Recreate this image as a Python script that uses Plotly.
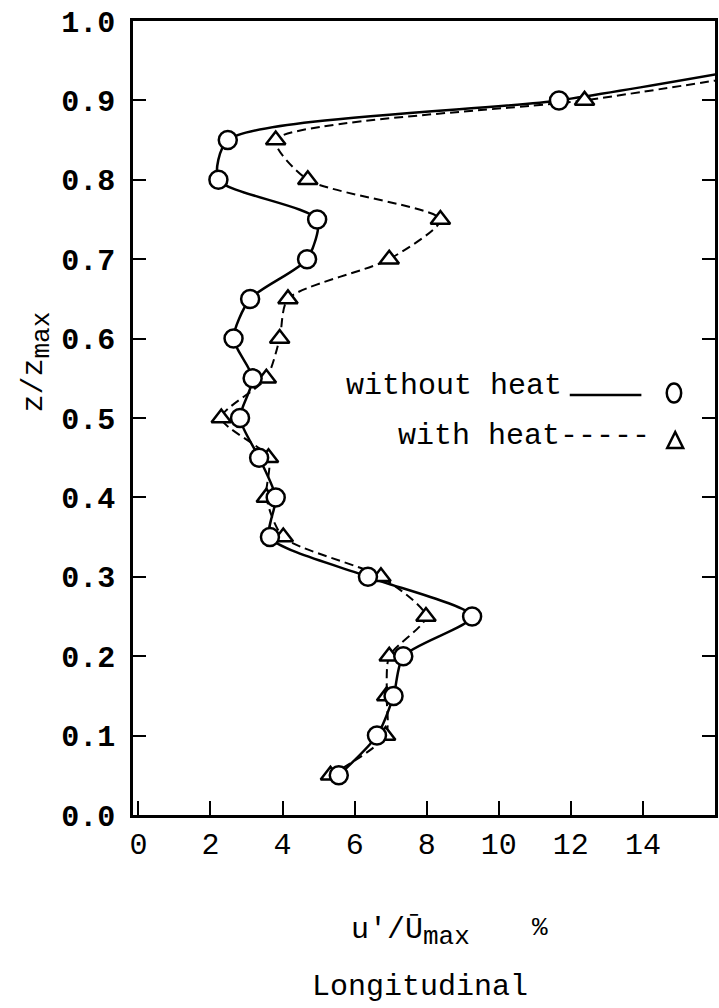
import plotly.graph_objects as go

# ---- data ----
z_levels = [0.05, 0.10, 0.15, 0.20, 0.25, 0.30, 0.35, 0.40, 0.45,
            0.50, 0.55, 0.60, 0.65, 0.70, 0.75, 0.80, 0.85, 0.90]
u_without_heat = [5.56, 6.62, 7.08, 7.35, 9.26, 6.37, 3.65, 3.81, 3.35,
                  2.82, 3.17, 2.64, 3.10, 4.68, 4.96, 2.22, 2.48, 11.67]
u_with_heat = [5.33, 6.86, 6.89, 6.96, 7.98, 6.73, 4.02, 3.55, 3.61,
               2.30, 3.55, 3.92, 4.15, 6.96, 8.38, 4.70, 3.81, 12.38]
# curves continue beyond the right frame
tail_u = [16.3]
tail_z_without = [0.935]
tail_z_with = [0.927]

x_ticks = [0, 2, 4, 6, 8, 10, 12, 14]
y_ticks = [0.0, 0.1, 0.2, 0.3, 0.4, 0.5, 0.6, 0.7, 0.8, 0.9, 1.0]

FONT = "Liberation Mono"
W, H = 719, 1008
ML, MR, MT, MB = 133, 1, 21, 193
PW, PH = W - ML - MR, H - MT - MB


def px2paper_x(px):
    return (px - ML) / PW


def px2paper_y(py):
    return (H - MB - py) / PH


fig = go.Figure()

# lines
fig.add_trace(go.Scatter(
    x=u_with_heat + tail_u, y=z_levels + tail_z_with, mode="lines",
    line=dict(color="black", width=2, dash="9px,5px", shape="spline", smoothing=0.7),
    showlegend=False, hoverinfo="skip"))
fig.add_trace(go.Scatter(
    x=u_without_heat + tail_u, y=z_levels + tail_z_without, mode="lines",
    line=dict(color="black", width=2.5, shape="spline", smoothing=0.7),
    showlegend=False, hoverinfo="skip"))
# markers
fig.add_trace(go.Scatter(
    x=u_with_heat, y=z_levels, mode="markers",
    marker=dict(symbol="triangle-up", size=17, color="white",
                line=dict(color="black", width=2.5)),
    showlegend=False))
fig.add_trace(go.Scatter(
    x=u_without_heat, y=z_levels, mode="markers",
    marker=dict(symbol="circle", size=18, color="white",
                line=dict(color="black", width=2.5)),
    showlegend=False))

annotations = []
shapes = []

# legend (text left of key)
annotations.append(dict(xref="paper", yref="paper", x=px2paper_x(566), y=px2paper_y(386),
                        xanchor="right", yanchor="middle", showarrow=False,
                        text="without heat", font=dict(family=FONT, size=30, color="black")))
shapes.append(dict(type="line", xref="paper", yref="paper",
                   x0=px2paper_x(572), x1=px2paper_x(644),
                   y0=px2paper_y(395), y1=px2paper_y(395),
                   line=dict(color="black", width=2.5)))
shapes.append(dict(type="circle", xref="paper", yref="paper",
                   x0=px2paper_x(669.5), x1=px2paper_x(684),
                   y0=px2paper_y(383.5), y1=px2paper_y(402.5),
                   line=dict(color="black", width=2.5)))
annotations.append(dict(xref="paper", yref="paper", x=px2paper_x(655), y=px2paper_y(436),
                        xanchor="right", yanchor="middle", showarrow=False,
                        text="with heat-----", font=dict(family=FONT, size=30, color="black")))
shapes.append(dict(type="path", xref="paper", yref="paper",
                   path="M {} {} L {} {} L {} {} Z".format(
                       px2paper_x(670), px2paper_y(448),
                       px2paper_x(686), px2paper_y(448),
                       px2paper_x(678), px2paper_y(432)),
                   line=dict(color="black", width=2.5)))

SUB = "<sub><span style='font-size:26px'>max</span></sub>"
# y title
annotations.append(dict(xref="paper", yref="paper", x=px2paper_x(36), y=px2paper_y(362),
                        xanchor="center", yanchor="middle", showarrow=False, textangle=-90,
                        text="z/z" + SUB, font=dict(family=FONT, size=30, color="black")))
# x title
annotations.append(dict(xref="paper", yref="paper", x=px2paper_x(412), y=px2paper_y(932),
                        xanchor="center", yanchor="middle", showarrow=False,
                        text="u'/Ū" + SUB, font=dict(family=FONT, size=30, color="black")))
annotations.append(dict(xref="paper", yref="paper", x=px2paper_x(542), y=px2paper_y(928),
                        xanchor="center", yanchor="middle", showarrow=False,
                        text="%", font=dict(family=FONT, size=26, color="black")))
annotations.append(dict(xref="paper", yref="paper", x=px2paper_x(421), y=px2paper_y(987),
                        xanchor="center", yanchor="middle", showarrow=False,
                        text="Longitudinal", font=dict(family=FONT, size=30, color="black")))

fig.update_layout(
    width=W, height=H,
    margin=dict(l=ML, r=MR, t=MT, b=MB),
    paper_bgcolor="white", plot_bgcolor="white",
    annotations=annotations, shapes=shapes,
    showlegend=False,
)
fig.update_xaxes(
    range=[-0.15, 16.0], tickvals=x_ticks, ticktext=[str(v) for v in x_ticks],
    ticks="inside", ticklen=14, tickwidth=2, tickcolor="black",
    showline=True, linecolor="black", linewidth=2.5, mirror=True,
    showgrid=False, zeroline=False,
    tickfont=dict(family=FONT, size=30, color="black"),
    ticklabelstandoff=0,
)
fig.update_yaxes(
    range=[0, 1.0], tickvals=y_ticks, ticktext=["%.1f" % v for v in y_ticks],
    ticks="inside", ticklen=13, tickwidth=2, tickcolor="black",
    showline=True, linecolor="black", linewidth=2.5, mirror="ticks",
    showgrid=False, zeroline=False,
    tickfont=dict(family=FONT, size=30, color="black", weight="bold"),
    ticklabelstandoff=9,
)

fig.write_html("out.html")
